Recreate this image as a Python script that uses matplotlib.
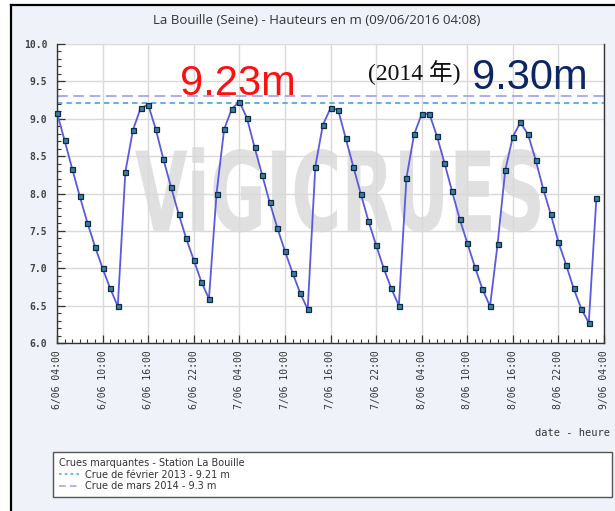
import matplotlib
matplotlib.use("Agg")
import matplotlib.pyplot as plt
import numpy as np
from matplotlib.lines import Line2D
from matplotlib.patches import Rectangle, PathPatch
from matplotlib.textpath import TextPath
from matplotlib.font_manager import FontProperties
from matplotlib.transforms import Affine2D
from matplotlib.ticker import MultipleLocator

# ---- data ----
hours = list(range(72))
levels = [9.08, 8.71, 8.33, 7.96, 7.61, 7.29, 7.00, 6.73, 6.49,
          8.29, 8.85, 9.14, 9.19, 8.86, 8.46, 8.09, 7.73, 7.40, 7.11, 6.82, 6.59,
          8.00, 8.86, 9.13, 9.23, 9.01, 8.62, 8.25, 7.88, 7.54, 7.23, 6.94, 6.67, 6.45,
          8.36, 8.92, 9.14, 9.12, 8.74, 8.36, 7.99, 7.63, 7.31, 7.00, 6.73, 6.50,
          8.21, 8.79, 9.06, 9.07, 8.77, 8.41, 8.03, 7.66, 7.34, 7.02, 6.72, 6.49,
          7.33, 8.31, 8.76, 8.95, 8.79, 8.45, 8.06, 7.72, 7.35, 7.05, 6.73, 6.46, 6.27, 7.94]
tick_hours = [0, 6, 12, 18, 24, 30, 36, 42, 48, 54, 60, 66, 72]
tick_labels = ["6/06 04:00", "6/06 10:00", "6/06 16:00", "6/06 22:00",
               "7/06 04:00", "7/06 10:00", "7/06 16:00", "7/06 22:00",
               "8/06 04:00", "8/06 10:00", "8/06 16:00", "8/06 22:00",
               "9/06 04:00"]
yticks = [6.0, 6.5, 7.0, 7.5, 8.0, 8.5, 9.0, 9.5, 10.0]
crue_2013 = 9.21
crue_2014 = 9.30
label_2013 = "Crue de février 2013 - 9.21 m"
label_2014 = "Crue de mars 2014 - 9.3 m"
legend_title = "Crues marquantes - Station La Bouille"
title = "La Bouille (Seine) - Hauteurs en m (09/06/2016 04:08)"

W, H = 615, 511
fig = plt.figure(figsize=(W / 100, H / 100), dpi=100)
fig.patch.set_facecolor("white")

def fx(px):
    return px / W

def fy(py):
    return 1 - py / H

# panel background + black frame (left & top)
fig.add_artist(Rectangle((fx(11), 0), 1 - fx(11), fy(5), transform=fig.transFigure,
                         facecolor="#eff3f9", edgecolor="none", zorder=0))
fig.add_artist(Line2D([fx(11), fx(11)], [0, fy(5)], transform=fig.transFigure,
                      color="black", lw=1.6, zorder=1))
fig.add_artist(Line2D([fx(11), 1], [fy(5), fy(5)], transform=fig.transFigure,
                      color="black", lw=1.6, zorder=1))

ax = fig.add_axes([fx(57), fy(343), fx(604) - fx(57), fy(44) - fy(343)])
ax.set_facecolor("white")
ax.set_xlim(0, 72)
ax.set_ylim(6.0, 10.0)

# watermark
fp = FontProperties(family="DejaVu Sans", weight="bold")
tp = TextPath((0, 0), "ViGICRUES", prop=fp, size=100)
bb = tp.get_extents()
x0, x1 = 0.143, 0.883
y0, y1 = 0.37, 0.655
tr = Affine2D().translate(-bb.x0, -bb.y0).scale((x1 - x0) / bb.width, (y1 - y0) / bb.height).translate(x0, y0)
ax.add_patch(PathPatch(tr.transform_path(tp), transform=ax.transAxes,
                       facecolor="#e0e0e0", edgecolor="none", zorder=0.1))

ax.grid(True, which="major", color="#d9d9d9", lw=1.0, zorder=0.5)
ax.set_axisbelow(True)

ax.axhline(crue_2013, color="#4aaee6", lw=1.3, ls=(0, (3, 2.2)), zorder=2)
ax.axhline(crue_2014, color="#a9a4ee", lw=1.3, ls=(0, (6, 3)), zorder=2)

ax.plot(hours, levels, color="#5a5ae0", lw=1.3, marker="s", ms=3.6,
        mfc="#3a7f9f", mec="#0e2a44", mew=0.9, zorder=3, clip_on=False)

# axes styling
ax.spines["top"].set_visible(False)
for s in ["left", "bottom", "right"]:
    ax.spines[s].set_color("#333333")
    ax.spines[s].set_linewidth(1.0)

ax.set_xticks(tick_hours)
ax.set_xticklabels(tick_labels, rotation=90, family="DejaVu Sans Mono", fontsize=7, color="#333333")
ax.xaxis.set_minor_locator(MultipleLocator(1))
ax.set_yticks(yticks)
ax.set_yticklabels([f"{v:.1f}" for v in yticks], family="DejaVu Sans Mono", fontsize=7,
                   weight="bold", color="#444444")
ax.yaxis.set_minor_locator(MultipleLocator(0.1))
ax.tick_params(axis="both", which="major", direction="in", length=6, width=0.9, color="#333333")
ax.tick_params(axis="both", which="minor", direction="in", length=3, width=0.8, color="#333333")
ax.tick_params(axis="x", which="major", pad=5)
ax.tick_params(axis="y", which="major", pad=7)

# title & axis label
fig.text(fx(317), fy(20), title, ha="center", va="center", fontsize=9.5,
         family="Open Sans", color="#333333")
fig.text(fx(610), fy(433), "date - heure", ha="right", va="center", fontsize=7.5,
         family="DejaVu Sans Mono", color="#333333")

# annotations
fig.text(fx(180), fy(95), "9.23m", ha="left", va="baseline", fontsize=30,
         family="Liberation Sans", color="#ff1010")
fig.text(fx(472), fy(89), "9.30m", ha="left", va="baseline", fontsize=30,
         family="Liberation Sans", color="#0b2566")
fig.text(fx(368), fy(80), "(2014 年)", ha="left", va="baseline", fontsize=17,
         family=["Liberation Serif", "Noto Sans CJK JP"], color="#111111")

# legend box
h1 = Line2D([], [], color="#4aaee6", lw=1.2, ls=(0, (1.5, 2)))
h2 = Line2D([], [], color="#a9a4ee", lw=1.2, ls=(0, (4, 2.5)))
leg = fig.legend([h1, h2], [label_2013, label_2014], title=legend_title,
                 loc="upper left", bbox_to_anchor=(fx(53), fy(453), fx(612) - fx(53), 0.001),
                 mode="expand", alignment="left", fontsize=7, title_fontsize=7,
                 frameon=True, fancybox=False, edgecolor="#555555", framealpha=1,
                 handlelength=2.2, handletextpad=0.5, labelspacing=0.15,
                 borderpad=0.6, borderaxespad=0)
leg.get_frame().set_linewidth(1.0)
for t in leg.get_texts():
    t.set_color("#333333")
leg.get_title().set_color("#333333")

fig.savefig("out.png", dpi=100)
